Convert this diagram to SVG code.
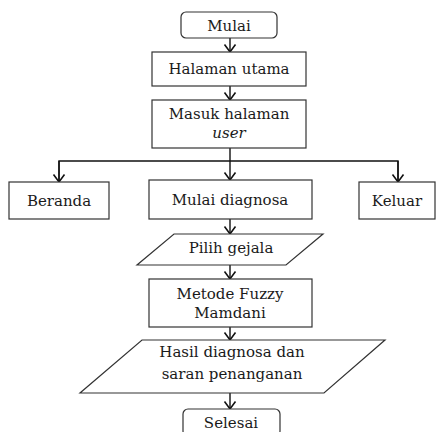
<svg xmlns="http://www.w3.org/2000/svg" width="436" height="432" viewBox="0 0 436 432">
<defs>
<style>
.box{fill:#fff;stroke:#333;stroke-width:1.2}
.lbl{font-family:"DejaVu Serif","Liberation Serif",serif;font-size:15px;fill:#1a1a1a;text-anchor:middle}
.it{font-style:italic}
.con{fill:none;stroke:#111;stroke-width:1.4}
</style>
<marker id="arr" markerUnits="userSpaceOnUse" viewBox="-1 -7 10 14" markerWidth="10" markerHeight="14" refX="7.5" refY="0" orient="auto">
<path d="M0,-5.5 L7.5,0 L0,5.5" fill="none" stroke="#111" stroke-width="1.6"/>
</marker>
</defs>
<rect width="436" height="432" fill="#fff"/>
<g id="connectors">
<line class="con" x1="230" y1="38" x2="230" y2="52" marker-end="url(#arr)"/>
<line class="con" x1="230" y1="86" x2="230" y2="100" marker-end="url(#arr)"/>
<line class="con" x1="230" y1="148" x2="230" y2="161"/>
<path class="con" d="M59,182 V161 H398 V182"/>
<line class="con" x1="59" y1="161" x2="59" y2="182" marker-end="url(#arr)"/>
<line class="con" x1="398" y1="161" x2="398" y2="182" marker-end="url(#arr)"/>
<line class="con" x1="230" y1="161" x2="230" y2="180" marker-end="url(#arr)"/>
<line class="con" x1="230" y1="219" x2="230" y2="234" marker-end="url(#arr)"/>
<line class="con" x1="230" y1="265" x2="230" y2="279" marker-end="url(#arr)"/>
<line class="con" x1="230" y1="327" x2="230" y2="340" marker-end="url(#arr)"/>
<line class="con" x1="230" y1="393" x2="230" y2="409" marker-end="url(#arr)"/>
</g>
<g id="mulai">
<rect class="box" x="181" y="12" width="96" height="26" rx="5"/>
<text class="lbl" x="229" y="31">Mulai</text>
</g>
<g id="halaman-utama">
<rect class="box" x="152" y="52" width="154" height="34"/>
<text class="lbl" x="229" y="74">Halaman utama</text>
</g>
<g id="masuk-halaman">
<rect class="box" x="152" y="100" width="154" height="48"/>
<text class="lbl" x="229" y="119">Masuk halaman</text>
<text class="lbl it" x="229" y="138">user</text>
</g>
<g id="beranda">
<rect class="box" x="9" y="182" width="100" height="37"/>
<text class="lbl" x="59" y="206">Beranda</text>
</g>
<g id="mulai-diagnosa">
<rect class="box" x="149" y="180" width="163" height="39"/>
<text class="lbl" x="230" y="205">Mulai diagnosa</text>
</g>
<g id="keluar">
<rect class="box" x="359" y="182" width="76" height="37"/>
<text class="lbl" x="397" y="206">Keluar</text>
</g>
<g id="pilih-gejala">
<polygon class="box" points="174,234 323,234 286,265 137,265"/>
<text class="lbl" x="231" y="253">Pilih gejala</text>
</g>
<g id="metode">
<rect class="box" x="149" y="279" width="163" height="48"/>
<text class="lbl" x="230" y="299">Metode Fuzzy</text>
<text class="lbl" x="230" y="318">Mamdani</text>
</g>
<g id="hasil">
<polygon class="box" points="142,340 385,340 324,393 80,393"/>
<text class="lbl" x="232" y="357">Hasil diagnosa dan</text>
<text class="lbl" x="232" y="379">saran penanganan</text>
</g>
<g id="selesai">
<rect class="box" x="183" y="409" width="97" height="27" rx="5"/>
<text class="lbl" x="231" y="428">Selesai</text>
</g>
</svg>
